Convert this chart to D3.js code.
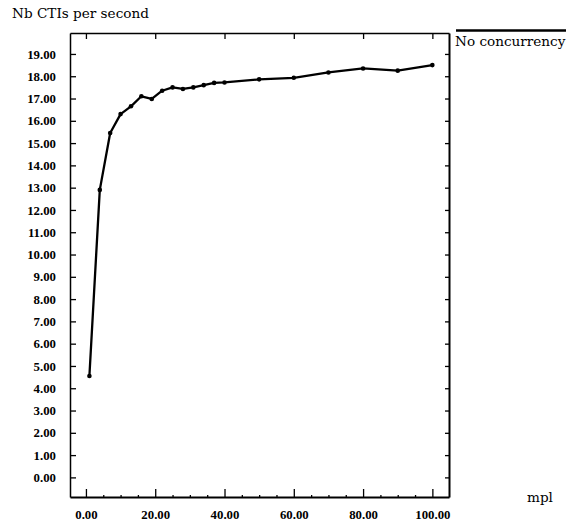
<!DOCTYPE html>
<html>
<head>
<meta charset="utf-8">
<script src="https://cdn.jsdelivr.net/npm/d3@7"></script>
<style>
  body { margin: 0; background: #fff; }
  svg { display: block; }
  .tick text { font-family: "Liberation Serif", serif; font-weight: bold; font-size: 12.8px; fill: #000; }
  .lbl { font-family: "DejaVu Serif", serif; font-size: 13.6px; fill: #000; }
</style>
</head>
<body>
<div id="chart"></div>
<script>
// data
const mpl = [1, 4, 7, 10, 13, 16, 19, 22, 25, 28, 31, 34, 37, 40, 50, 60, 70, 80, 90, 100];
const ctis = [4.55, 12.9, 15.45, 16.3, 16.65, 17.1, 16.98, 17.35, 17.5, 17.43, 17.5, 17.6, 17.7, 17.72, 17.86, 17.93, 18.17, 18.35, 18.25, 18.5];
const xTicks = [0, 20, 40, 60, 80, 100];
const yTicks = d3.range(0, 20);
const seriesName = "No concurrency";

const width = 568, height = 525;
const margin = { top: 33, right: 119, bottom: 28, left: 70 };

const svg = d3.select("#chart").append("svg")
    .attr("width", width)
    .attr("height", height);

const x = d3.scaleLinear()
    .domain([-4.6, 104.8])
    .range([margin.left, width - margin.right]);

const y = d3.scaleLinear()
    .domain([-0.88, 19.94])
    .range([height - margin.bottom, margin.top]);

const fmt = d3.format(".2f");

// bottom axis, ticks pointing inward
svg.append("g")
    .attr("transform", "translate(0," + (height - margin.bottom) + ")")
    .call(d3.axisBottom(x).tickValues(xTicks).tickFormat(fmt).tickSizeInner(-8).tickSizeOuter(0).tickPadding(13))
    .call(g => g.select(".domain").attr("stroke-width", 2));

// minor x ticks
svg.append("g")
    .attr("transform", "translate(0," + (height - margin.bottom) + ")")
    .call(d3.axisBottom(x).tickValues(d3.range(0, 105, 5).filter(v => v % 20)).tickFormat("").tickSizeInner(-2).tickSizeOuter(0))
    .call(g => g.select(".domain").remove());

// top mirror
svg.append("g")
    .attr("transform", "translate(0," + margin.top + ")")
    .call(d3.axisTop(x).tickValues(xTicks).tickFormat("").tickSizeInner(-6).tickSizeOuter(0))
    .call(g => g.select(".domain").attr("stroke-width", 1.5));

// left axis
svg.append("g")
    .attr("transform", "translate(" + margin.left + ",0)")
    .call(d3.axisLeft(y).tickValues(yTicks).tickFormat(fmt).tickSizeInner(-6).tickSizeOuter(0).tickPadding(14))
    .call(g => g.select(".domain").attr("stroke-width", 1.5));

// right mirror
svg.append("g")
    .attr("transform", "translate(" + (width - margin.right) + ",0)")
    .call(d3.axisRight(y).tickValues(yTicks).tickFormat("").tickSizeInner(-4).tickSizeOuter(0))
    .call(g => g.select(".domain").attr("stroke-width", 2));

svg.selectAll(".tick line").attr("stroke", "#000").attr("stroke-width", 1.3);

// series line
const line = d3.line()
    .x((d, i) => x(mpl[i]))
    .y(d => y(d));

svg.append("path")
    .datum(ctis)
    .attr("fill", "none")
    .attr("stroke", "#000")
    .attr("stroke-width", 2.3)
    .attr("stroke-linejoin", "round")
    .attr("d", line);

svg.selectAll(".pt")
    .data(ctis)
    .enter()
    .append("circle")
    .attr("class", "pt")
    .attr("cx", (d, i) => x(mpl[i]))
    .attr("cy", d => y(d))
    .attr("r", 2.3)
    .attr("fill", "#000");

// titles
svg.append("text")
    .attr("class", "lbl")
    .attr("x", 12)
    .attr("y", 18)
    .text("Nb CTIs per second");

svg.append("text")
    .attr("class", "lbl")
    .attr("x", 527)
    .attr("y", 502)
    .text("mpl");

// legend
svg.append("line")
    .attr("x1", 456).attr("x2", 566)
    .attr("y1", 30.5).attr("y2", 30.5)
    .attr("stroke", "#000")
    .attr("stroke-width", 2.5);

svg.append("text")
    .attr("class", "lbl")
    .attr("x", 455)
    .attr("y", 46)
    .text(seriesName);
</script>
</body>
</html>
